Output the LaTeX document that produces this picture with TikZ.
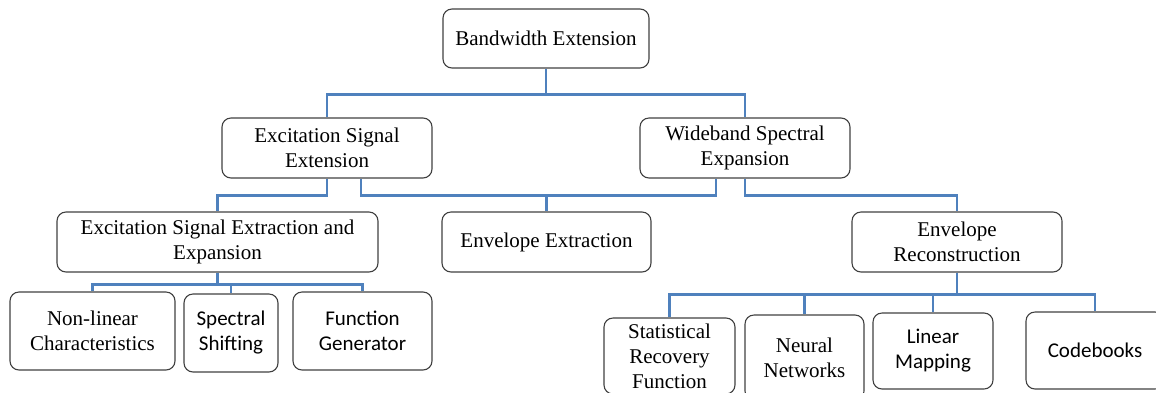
\documentclass[tikz,border=0pt]{standalone}
\usepackage{fontspec}
\setmainfont{Liberation Serif}
\newfontfamily\calibri{Carlito}
\usepackage{xcolor}
\usepackage{tikz}

\definecolor{linkblue}{RGB}{79,129,189}

\begin{document}
\begin{tikzpicture}[
  x=1pt, y=-1pt,
  box/.style={draw=black!75, line width=1.1pt, rounded corners=9pt, inner sep=2pt, align=center},
  sansbox/.style={box, font=\calibri\fontsize{21}{25}\selectfont},
  link/.style={draw=linkblue, line width=2.6pt},
  every node/.style={font=\fontsize{21}{25}\selectfont}
  ]

\useasboundingbox (0,0) rectangle (1156,392);

% level 0 and 1
\node[box, minimum width=206pt, minimum height=59pt] (root) at (546,38.5) {Bandwidth Extension};
\node[box, minimum width=210pt, minimum height=60pt] (exc) at (327,148) {Excitation Signal \\ Extension};
\node[box, minimum width=210pt, minimum height=60pt] (wide) at (745,148) {Wideband Spectral \\ Expansion};

% level 2
\node[box, minimum width=321pt, minimum height=60pt] (extr) at (217.5,242) {Excitation Signal Extraction and \\ Expansion};
\node[box, minimum width=209pt, minimum height=60pt] (envx) at (546.5,242) {Envelope Extraction};
\node[box, minimum width=210pt, minimum height=60pt] (envr) at (957,242) {Envelope \\ Reconstruction};

% leaves
\node[box, minimum width=165pt, minimum height=78pt] (nonlin) at (92.5,331) {Non-linear \\ Characteristics};
\node[sansbox, minimum width=94pt, minimum height=78pt] (shift) at (231,333) {Spectral \\ Shifting};
\node[sansbox, minimum width=139pt, minimum height=78pt] (funcgen) at (362.5,331) {Function \\ Generator};
\node[box, minimum width=131pt, minimum height=76pt] (stat) at (669.5,356) {Statistical \\ Recovery \\ Function};
\node[box, minimum width=119pt, minimum height=85pt] (nn) at (804.5,357.5) {Neural \\ Networks};
\node[sansbox, minimum width=120pt, minimum height=76pt] (lm) at (933,351) {Linear \\ Mapping};
\node[sansbox, minimum width=138pt, minimum height=77pt] (cb) at (1095,350.5) {Codebooks};

% connectors
\draw[link] (root.south) -- ++(0,26) -| (exc.north);
\draw[link] (root.south) -- ++(0,26) -| (wide.north);

\draw[link] (exc.south) -- ++(0,17) -| (extr.north);
\draw[link] ([xshift=34pt]exc.south) -- ++(0,17) -| (envx.north);
\draw[link] ([xshift=-29pt]wide.south) -- ++(0,17) -| (envx.north);
\draw[link] (wide.south) -- ++(0,17) -| (envr.north);

\draw[link] (extr.south) -- ++(0,12) -| (nonlin.north);
\draw[link] (extr.south) -- ++(0,12) -| (shift.north);
\draw[link] (extr.south) -- ++(0,12) -| (funcgen.north);

\draw[link] (envr.south) -- ++(0,22) -| (stat.north);
\draw[link] (envr.south) -- ++(0,22) -| (nn.north);
\draw[link] (envr.south) -- ++(0,22) -| (lm.north);
\draw[link] (envr.south) -- ++(0,22) -| (cb.north);

\end{tikzpicture}
\end{document}
